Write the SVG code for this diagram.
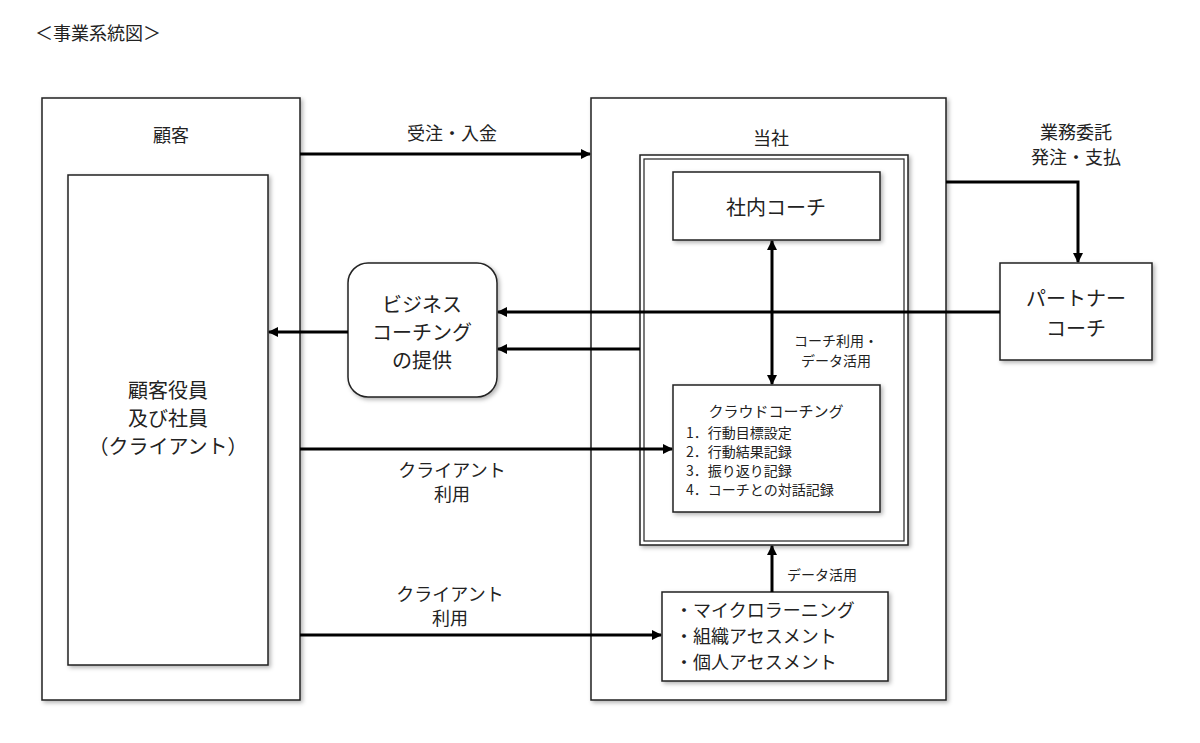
<svg xmlns="http://www.w3.org/2000/svg" width="1200" height="743" viewBox="0 0 1200 743">
<defs>
<marker id="ah" markerWidth="10" markerHeight="10" refX="9" refY="5" orient="auto-start-reverse" markerUnits="userSpaceOnUse" viewBox="0 0 10 10"><path d="M0,0 L10,5 L0,10 z" fill="#000"/></marker>
<filter id="sh" x="-10%" y="-10%" width="120%" height="120%"><feDropShadow dx="2" dy="2" stdDeviation="2" flood-color="#000" flood-opacity="0.3"/></filter>
</defs>
<style>
text{font-family:"Noto Sans CJK JP","Liberation Serif",serif;fill:#222;text-anchor:middle}
.b{fill:#fff;stroke:#222;stroke-width:1.5;filter:url(#sh)}
.c{stroke:#000;stroke-width:3;fill:none;marker-end:url(#ah)}
.l{font-size:18px}.s{font-size:14px}.m{font-size:20px}
</style>
<rect width="1200" height="743" fill="#fff"/>
<text x="35" y="40" style="text-anchor:start" class="l">＜事業系統図＞</text>
<g id="kokyaku"><rect class="b" x="42" y="98" width="258" height="602"/><text x="171" y="142" class="l">顧客</text></g>
<g id="client"><rect class="b" x="68" y="175" width="200" height="490"/><text x="168" y="398" class="m">顧客役員</text><text x="168" y="426" class="m">及び社員</text><text x="168" y="454" class="m">（クライアント）</text></g>
<g id="tousha"><rect class="b" x="591" y="98" width="355" height="602"/><text x="771" y="145" class="l">当社</text></g>
<g id="inner"><rect class="b" x="640" y="155" width="268" height="390"/><rect x="644" y="159" width="260" height="382" fill="none" stroke="#222" stroke-width="1.2"/></g>
<g id="shanai"><rect class="b" x="673" y="172" width="207" height="68"/><text x="776" y="215" class="m">社内コーチ</text></g>
<g id="cloud"><rect class="b" x="673" y="385" width="207" height="127"/><text x="776" y="417" class="s" style="font-size:15px">クラウドコーチング</text>
<g class="s" style="text-anchor:start"><text x="686" y="438" style="text-anchor:start">1．行動目標設定</text><text x="686" y="457" style="text-anchor:start">2．行動結果記録</text><text x="686" y="476" style="text-anchor:start">3．振り返り記録</text><text x="686" y="495" style="text-anchor:start">4．コーチとの対話記録</text></g></g>
<g id="micro"><rect class="b" x="662" y="592" width="226" height="89"/><g style="font-size:18px"><text x="675" y="617" style="text-anchor:start">・マイクロラーニング</text><text x="675" y="643" style="text-anchor:start">・組織アセスメント</text><text x="675" y="669" style="text-anchor:start">・個人アセスメント</text></g></g>
<g id="business"><rect class="b" x="348" y="263" width="149" height="134" rx="20"/><text x="422" y="312" class="m">ビジネス</text><text x="422" y="340" class="m">コーチング</text><text x="422" y="368" class="m">の提供</text></g>
<g id="partner"><rect class="b" x="1000" y="263" width="152" height="97"/><text x="1076" y="306" class="m">パートナー</text><text x="1076" y="336" class="m">コーチ</text></g>
<g id="connectors">
<line class="c" x1="300" y1="154" x2="590" y2="154"/>
<polyline class="c" points="946,182 1078,182 1078,262"/>
<line class="c" x1="1000" y1="312" x2="498" y2="312"/>
<line class="c" x1="640" y1="349" x2="498" y2="349"/>
<line class="c" x1="348" y1="332" x2="269" y2="332"/>
<line class="c" x1="772" y1="241" x2="772" y2="384" style="marker-start:url(#ah)"/>
<line class="c" x1="300" y1="449" x2="672" y2="449"/>
<line class="c" x1="300" y1="635" x2="661" y2="635"/>
<line class="c" x1="772" y1="592" x2="772" y2="546"/>
</g>
<g id="labels">
<text x="452" y="140" class="l">受注・入金</text>
<text x="1076" y="139" class="l">業務委託</text><text x="1076" y="164" class="l">発注・支払</text>
<text x="836" y="346" class="s">コーチ利用・</text><text x="836" y="366" class="s">データ活用</text>
<text x="452" y="477" class="l">クライアント</text><text x="452" y="501" class="l">利用</text>
<text x="450" y="601" class="l">クライアント</text><text x="450" y="625" class="l">利用</text>
<text x="822" y="580" class="s">データ活用</text>
</g>
</svg>
